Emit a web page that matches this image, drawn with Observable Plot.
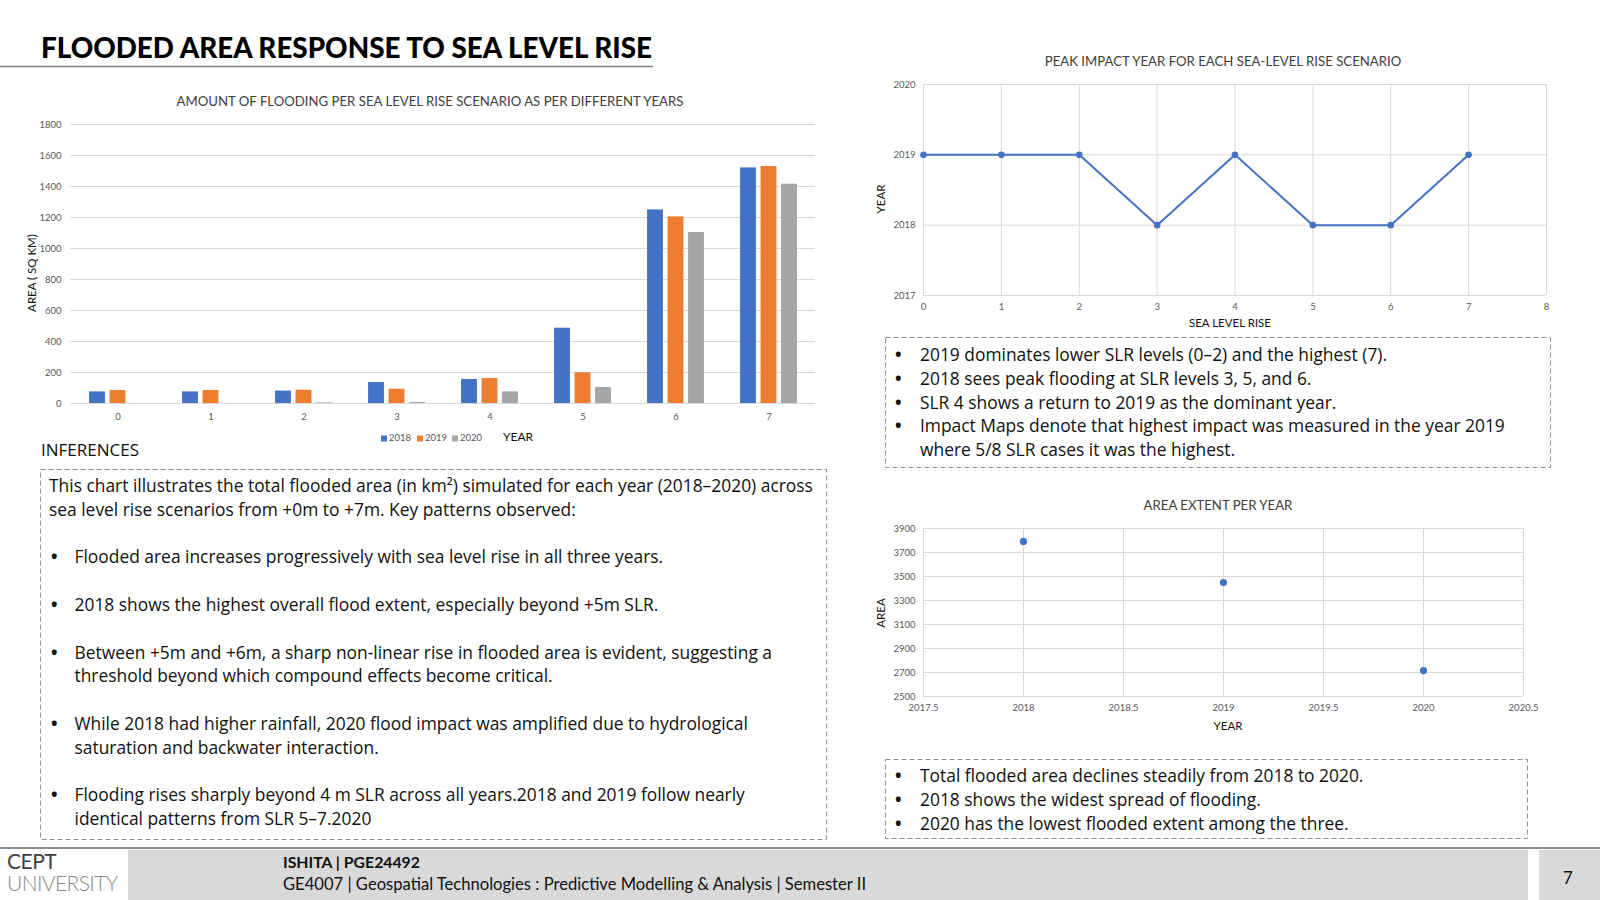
<!DOCTYPE html>
<html><head><meta charset="utf-8">
<script src="https://cdn.jsdelivr.net/npm/d3@7"></script>
<script src="https://cdn.jsdelivr.net/npm/@observablehq/plot@0.6"></script>
<style>
body{margin:0;background:#fff;}
#slide{position:relative;width:1600px;height:900px;overflow:hidden;background:#fff;}
.abs{position:absolute;white-space:nowrap;}
.body{font-family:"Open Sans",sans-serif;font-size:17.4px;line-height:23.8px;color:#111;}
.bul{font-weight:700;}
.ctitle{font-family:"Lato",sans-serif;font-size:13.2px;color:#404040;transform:translateX(-50%);}
.atitle{font-family:"Lato",sans-serif;font-size:11.5px;color:#111;}
.rot{transform:translate(-50%,-50%) rotate(-90deg);}
</style></head><body><div id="slide"></div>
<script>
// ---------- data ----------
const slrLevels = [0, 1, 2, 3, 4, 5, 6, 7];
const years = ["2018", "2019", "2020"];
const area2018 = [75, 75, 80, 135, 155, 486, 1249, 1520];
const area2019 = [84, 84, 86, 92, 161, 198, 1204, 1529];
const area2020 = [0, 0, 4, 6, 75, 103, 1103, 1415];
const barTicks = [0, 200, 400, 600, 800, 1000, 1200, 1400, 1600, 1800];

const peakYear = [2019, 2019, 2019, 2018, 2019, 2018, 2018, 2019];
const peakXTicks = [0, 1, 2, 3, 4, 5, 6, 7, 8];
const peakYTicks = [2017, 2018, 2019, 2020];

const extentYears = [2018, 2019, 2020];
const extentArea = [3792, 3450, 2716];
const extentXTicks = [2017.5, 2018, 2018.5, 2019, 2019.5, 2020, 2020.5];
const extentYTicks = [2500, 2700, 2900, 3100, 3300, 3500, 3700, 3900];

const yearColors = ["#4472C4", "#ED7D31", "#A5A5A5"];
const grid = "#d9d9d9";

const slide = document.getElementById("slide");
function add(html, style, cls) {
  const d = document.createElement("div");
  d.className = "abs " + (cls || "");
  d.style.cssText = style;
  d.innerHTML = html;
  slide.appendChild(d);
  return d;
}
function place(node, left, top) {
  node.style.position = "absolute";
  node.style.left = left + "px";
  node.style.top = top + "px";
  slide.appendChild(node);
}
const tickStyle = {fontFamily: "Lato, sans-serif", fontSize: "9.5px", color: "#595959", background: "transparent", overflow: "visible"};
const plain = d => String(d);

// ---------- bar chart ----------
const barRows = [];
slrLevels.forEach((s, i) => {
  barRows.push({slr: s, year: "2018", area: area2018[i]});
  barRows.push({slr: s, year: "2019", area: area2019[i]});
  barRows.push({slr: s, year: "2020", area: area2020[i]});
});
const barW = 830, barML = 70, barMR = 15;
const step = (barW - barML - barMR) / slrLevels.length;
const bw = 16, gap = 20.5;
const ins = (step - bw) / 2;
const barChart = Plot.plot({
  width: barW, height: 360,
  marginLeft: barML, marginRight: barMR, marginTop: 44, marginBottom: 37,
  style: tickStyle,
  x: {type: "band", domain: slrLevels, padding: 0, label: null, tickSize: 0, tickPadding: 10, tickFormat: plain},
  y: {domain: [0, 1800], ticks: barTicks, label: null, tickSize: 0, tickPadding: 9, tickFormat: plain},
  marks: [
    Plot.ruleY(barTicks, {stroke: grid, strokeWidth: 1}),
    ...years.map((yr, k) => Plot.barY(barRows.filter(r => r.year === yr), {
      x: "slr", y: "area", fill: yearColors[k],
      insetLeft: ins, insetRight: ins, dx: (k - 1) * gap
    }))
  ]
});
place(barChart, 0, 80);

// ---------- peak impact line chart ----------
const peakRows = slrLevels.map((s, i) => ({slr: s, year: peakYear[i]}));
const lineChart = Plot.plot({
  width: 720, height: 250,
  marginLeft: 73, marginRight: 24, marginTop: 14, marginBottom: 25,
  style: tickStyle,
  x: {domain: [0, 8], ticks: peakXTicks, label: null, tickSize: 0, tickPadding: 8, tickFormat: plain},
  y: {domain: [2017, 2020], ticks: peakYTicks, label: null, tickSize: 0, tickPadding: 8, tickFormat: plain},
  marks: [
    Plot.ruleX(peakXTicks, {stroke: grid}),
    Plot.ruleY(peakYTicks, {stroke: grid}),
    Plot.line(peakRows, {x: "slr", y: "year", stroke: "#4472C4", strokeWidth: 2}),
    Plot.dot(peakRows, {x: "slr", y: "year", r: 3.3, fill: "#4472C4"})
  ]
});
place(lineChart, 850, 70);

// ---------- area extent scatter ----------
const extentRows = extentYears.map((y, i) => ({year: y, area: extentArea[i]}));
const scatter = Plot.plot({
  width: 720, height: 220,
  marginLeft: 73, marginRight: 47, marginTop: 18, marginBottom: 34,
  style: tickStyle,
  x: {domain: [2017.5, 2020.5], ticks: extentXTicks, label: null, tickSize: 0, tickPadding: 8, tickFormat: plain},
  y: {domain: [2500, 3900], ticks: extentYTicks, label: null, tickSize: 0, tickPadding: 8, tickFormat: plain},
  marks: [
    Plot.ruleX(extentXTicks, {stroke: grid}),
    Plot.ruleY(extentYTicks, {stroke: grid}),
    Plot.dot(extentRows, {x: "year", y: "area", r: 3.6, fill: "#4472C4"})
  ]
});
place(scatter, 850, 510);

// ---------- decorative overlay (boxes, lines, footer) ----------
const ov = d3.create("svg").attr("width", 1600).attr("height", 900)
  .style("position", "absolute").style("left", 0).style("top", 0).style("pointer-events", "none");
function dashBox(x0, y0, x1, y1) {
  ov.append("rect").attr("x", x0).attr("y", y0).attr("width", x1 - x0).attr("height", y1 - y0)
    .attr("fill", "none").attr("stroke", "#8f8f8f").attr("stroke-width", 1).attr("stroke-dasharray", "5,3");
}
dashBox(40.5, 469.5, 826.5, 839.5);
dashBox(885.5, 337.5, 1550.5, 467.5);
dashBox(885.5, 759.5, 1527.5, 838.5);
ov.append("line").attr("x1", 0).attr("x2", 653).attr("y1", 66.5).attr("y2", 66.5).attr("stroke", "#7f7f7f").attr("stroke-width", 1.3);
ov.append("rect").attr("x", 128).attr("y", 850).attr("width", 1400).attr("height", 50).attr("fill", "#d9d9d9");
ov.append("rect").attr("x", 1539).attr("y", 850).attr("width", 61).attr("height", 50).attr("fill", "#d9d9d9");
ov.append("line").attr("x1", 0).attr("x2", 1600).attr("y1", 848).attr("y2", 848).attr("stroke", "#8c8c8c").attr("stroke-width", 2);
// legend swatches
const swX = [381, 417, 452];
years.forEach((yr, k) => {
  ov.append("rect").attr("x", swX[k]).attr("y", 435.5).attr("width", 6).attr("height", 6).attr("fill", yearColors[k]);
});
slide.insertBefore(ov.node(), slide.firstChild);

// ---------- texts ----------
add("FLOODED AREA RESPONSE TO SEA LEVEL RISE",
  "left:41px;top:31px;font-family:Lato,sans-serif;font-weight:900;font-size:27.8px;color:#000;");

add("AMOUNT OF FLOODING PER SEA LEVEL RISE SCENARIO AS PER DIFFERENT YEARS", "left:430px;top:93px;", "ctitle");
add("AREA ( SQ KM)", "left:31px;top:273px;", "atitle rot");
years.forEach((yr, k) => add(yr, `left:${swX[k] + 8}px;top:431.5px;font-family:Lato,sans-serif;font-size:9.5px;color:#595959;`));
add("YEAR", "left:503px;top:429px;font-family:Lato,sans-serif;font-size:12px;color:#111;");

add("PEAK IMPACT YEAR FOR EACH SEA-LEVEL RISE SCENARIO", "left:1223px;top:53px;", "ctitle");
add("YEAR", "left:880px;top:199px;", "atitle rot");
add("SEA LEVEL RISE", "left:1230px;top:316px;transform:translateX(-50%);", "atitle");

add("AREA EXTENT PER YEAR", "left:1218px;top:497px;", "ctitle");
add("AREA", "left:880px;top:613px;", "atitle rot");
add("YEAR", "left:1228px;top:719px;transform:translateX(-50%);", "atitle");

add("INFERENCES", "left:41px;top:438px;font-family:'Open Sans',sans-serif;font-size:17px;color:#111;");

function bulletBlock(left, top, textLeft, items) {
  let y = top;
  items.forEach(it => {
    if (it === null) { y += 23.8; return; }
    if (it.bullet) add("•", `left:${left}px;top:${y}px;`, "body bul");
    it.lines.forEach(l => {
      add(l, `left:${it.bullet ? textLeft : it.left}px;top:${y}px;`, "body");
      y += 23.8;
    });
  });
}
bulletBlock(51, 474, 74.5, [
  {bullet: false, left: 49, lines: ["This chart illustrates the total flooded area (in km²) simulated for each year (2018–2020) across",
    "sea level rise scenarios from +0m to +7m. Key patterns observed:"]},
  null,
  {bullet: true, lines: ["Flooded area increases progressively with sea level rise in all three years."]},
  null,
  {bullet: true, lines: ["2018 shows the highest overall flood extent, especially beyond +5m SLR."]},
  null,
  {bullet: true, lines: ["Between +5m and +6m, a sharp non-linear rise in flooded area is evident, suggesting a",
    "threshold beyond which compound effects become critical."]},
  null,
  {bullet: true, lines: ["While 2018 had higher rainfall, 2020 flood impact was amplified due to hydrological",
    "saturation and backwater interaction."]},
  null,
  {bullet: true, lines: ["Flooding rises sharply beyond 4 m SLR across all years.2018 and 2019 follow nearly",
    "identical patterns from SLR 5–7.2020"]}
]);
bulletBlock(895, 343, 920, [
  {bullet: true, lines: ["2019 dominates lower SLR levels (0–2) and the highest (7)."]},
  {bullet: true, lines: ["2018 sees peak flooding at SLR levels 3, 5, and 6."]},
  {bullet: true, lines: ["SLR 4 shows a return to 2019 as the dominant year."]},
  {bullet: true, lines: ["Impact Maps denote that highest impact was measured in the year 2019",
    "where 5/8 SLR cases it was the highest."]}
]);
bulletBlock(895, 764, 920, [
  {bullet: true, lines: ["Total flooded area declines steadily from 2018 to 2020."]},
  {bullet: true, lines: ["2018 shows the widest spread of flooding."]},
  {bullet: true, lines: ["2020 has the lowest flooded extent among the three."]}
]);

// footer
add("CEPT", "left:7px;top:850px;font-family:Lato,sans-serif;font-weight:400;font-size:21px;letter-spacing:-0.5px;color:#404040;line-height:22px;");
add("UNIVERSITY", "left:7px;top:872px;font-family:Lato,sans-serif;font-weight:300;font-size:21px;letter-spacing:-0.6px;color:#8a8a8a;line-height:22px;");
add("ISHITA | PGE24492", "left:283px;top:852px;font-family:Lato,sans-serif;font-weight:700;font-size:15.8px;color:#111;");
add("GE4007 | Geospatial Technologies : Predictive Modelling &amp; Analysis | Semester II", "left:283px;top:874px;font-family:Lato,sans-serif;font-size:16.6px;color:#111;");
add("7", "left:1563px;top:867px;font-family:Lato,sans-serif;font-size:17px;color:#111;");
</script>
</body></html>
